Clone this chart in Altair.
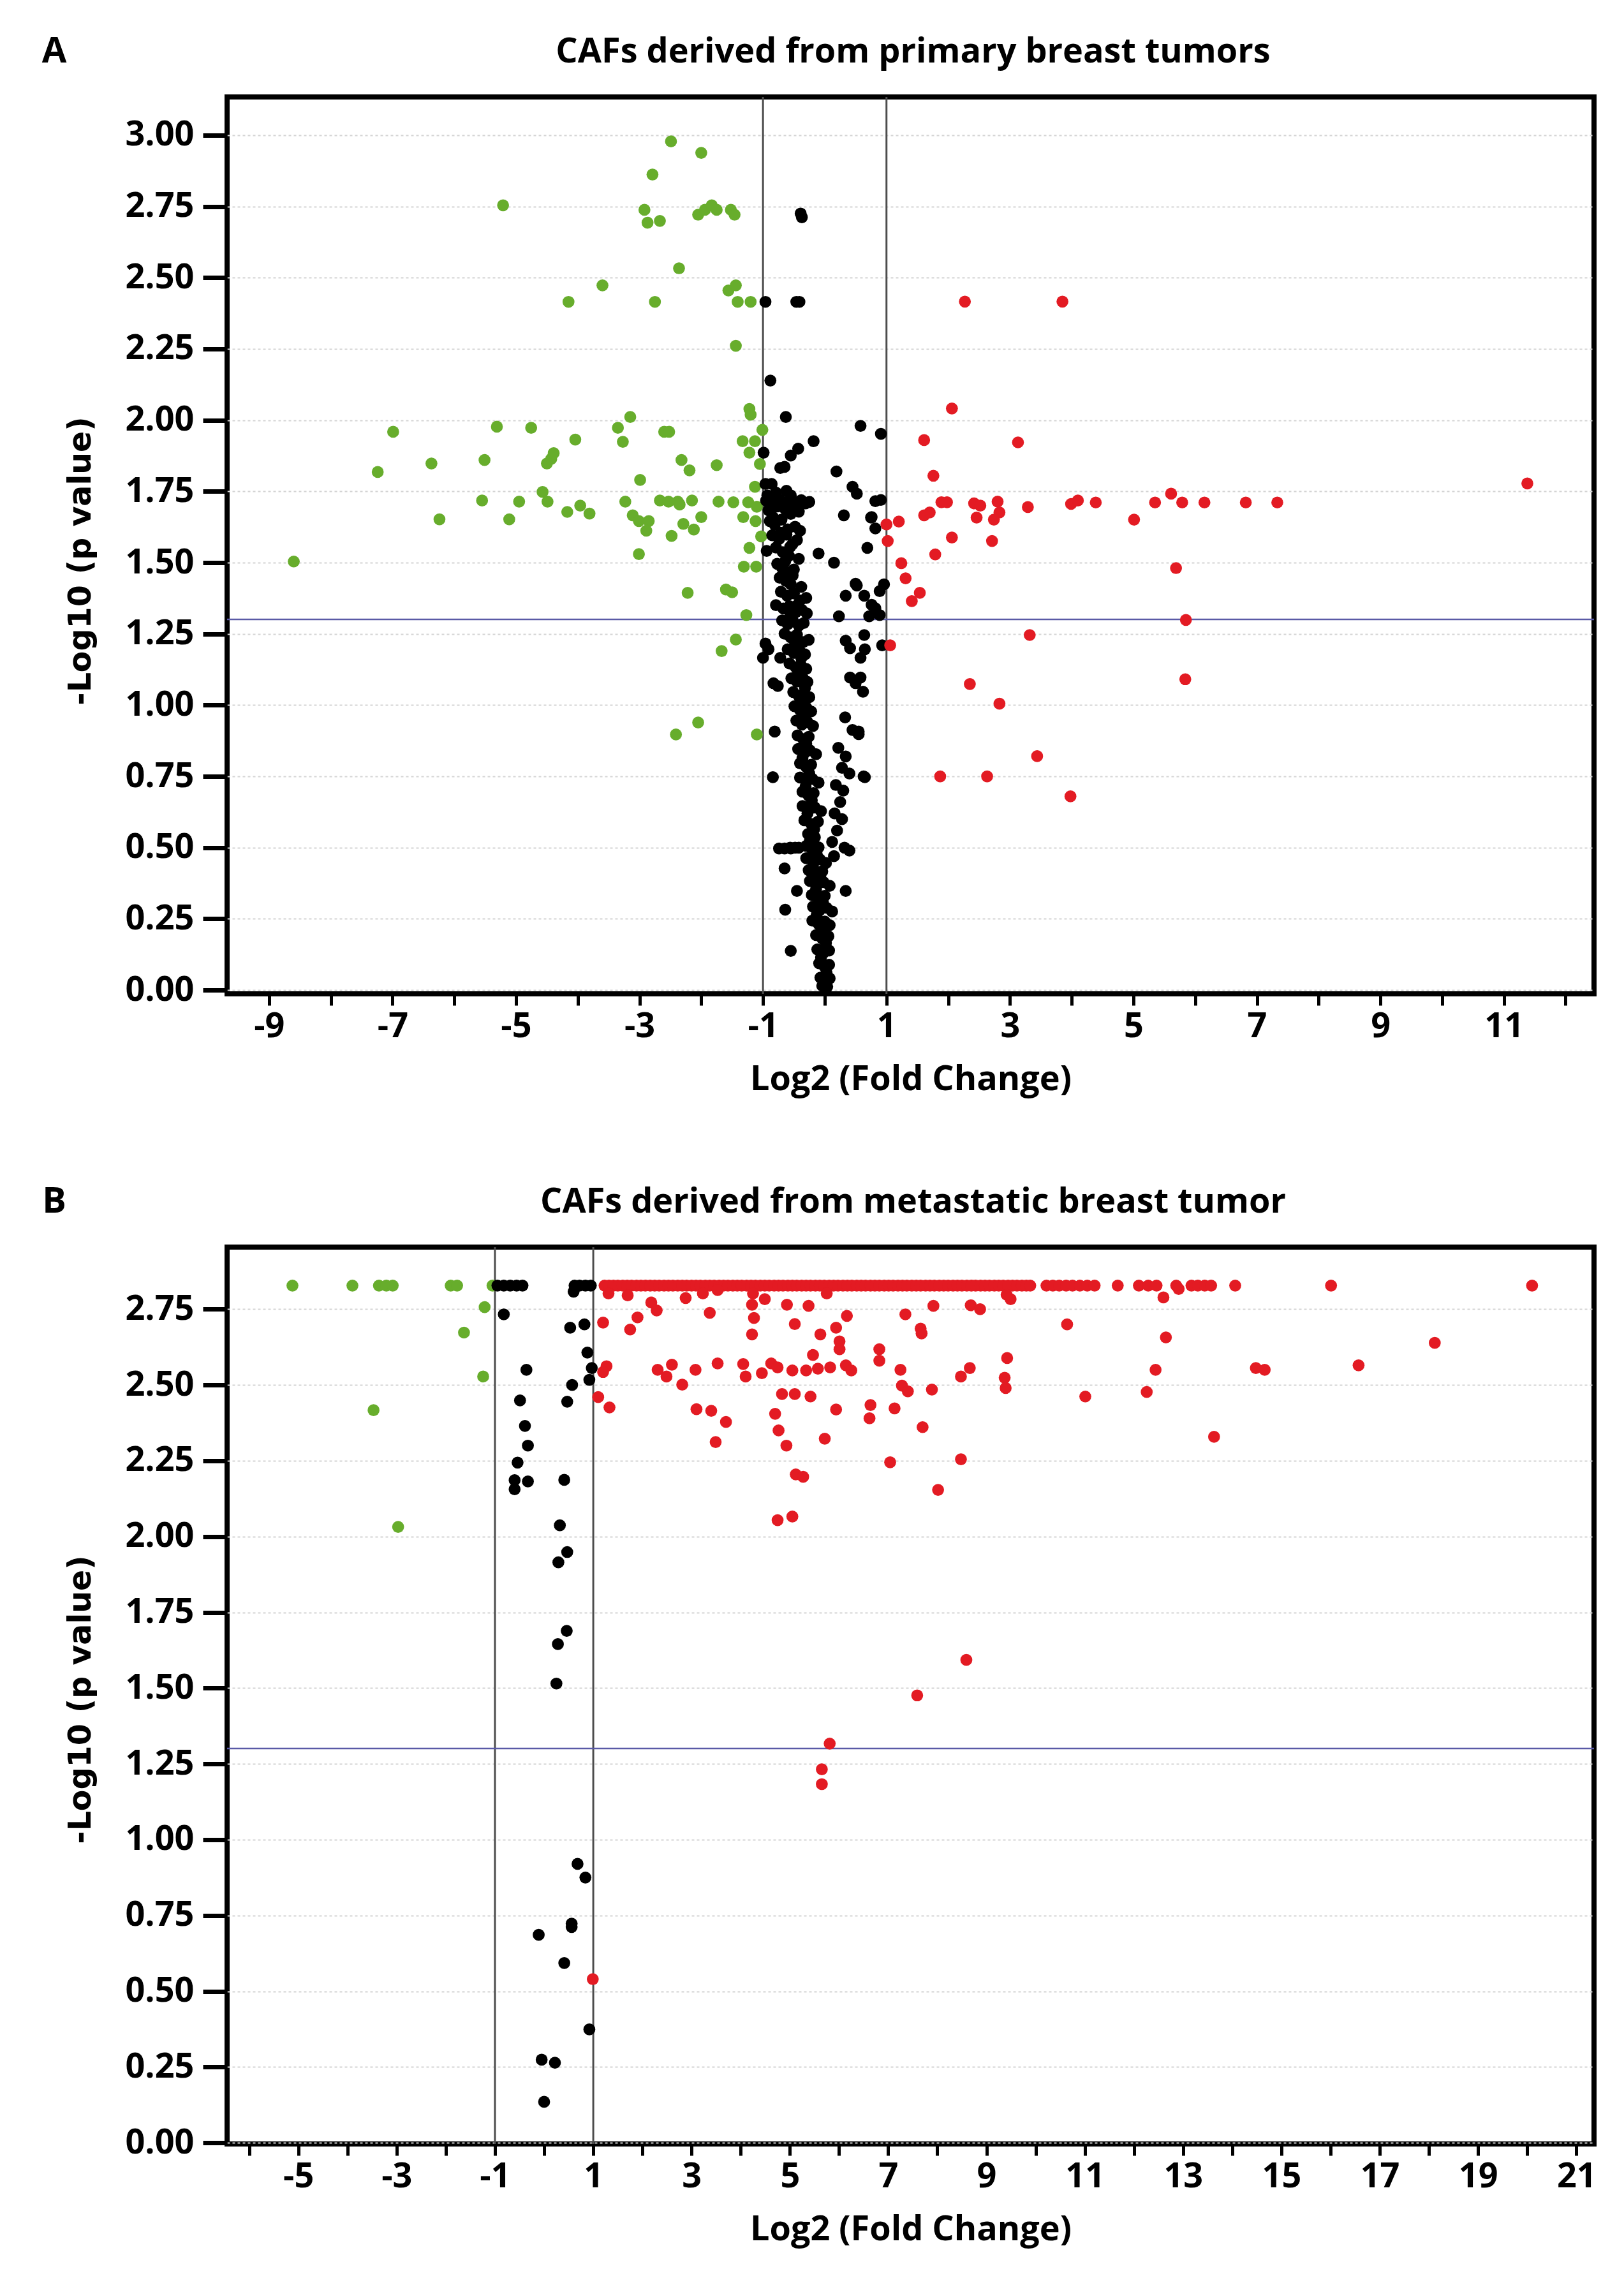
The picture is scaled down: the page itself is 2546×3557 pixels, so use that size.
import altair as alt
import pandas as pd

panel_letters = ["A", "B"]
panel_titles = ["CAFs derived from primary breast tumors",
                "CAFs derived from metastatic breast tumor"]
x_title = "Log2 (Fold Change)"
y_title = "-Log10 (p value)"
group_names = ["down", "ns", "up"]
group_colors = ["#67ad2c", "#000000", "#e31b23"]

a_x_ticks = [-9, -8, -7, -6, -5, -4, -3, -2, -1, 0, 1, 2, 3, 4, 5, 6, 7, 8, 9, 10, 11, 12]
a_y_ticks = [0.0, 0.25, 0.5, 0.75, 1.0, 1.25, 1.5, 1.75, 2.0, 2.25, 2.5, 2.75, 3.0]
b_x_ticks = [-6, -5, -4, -3, -2, -1, 0, 1, 2, 3, 4, 5, 6, 7, 8, 9, 10, 11, 12, 13, 14,
             15, 16, 17, 18, 19, 20, 21]
b_y_ticks = [0.0, 0.25, 0.5, 0.75, 1.0, 1.25, 1.5, 1.75, 2.0, 2.25, 2.5, 2.75]
fc_cutoffs = [-1, 1]
p_cutoff = [1.30103]

# ---------------- Panel A (primary) ----------------
a_green = [
    (-2.49, 2.978), (-2.00, 2.938), (-2.79, 2.862), (-5.21, 2.754), (-2.92, 2.738),
    (-2.87, 2.693), (-2.67, 2.699), (-2.05, 2.721), (-1.94, 2.738), (-1.83, 2.754),
    (-1.75, 2.738), (-1.52, 2.738), (-1.46, 2.721), (-2.36, 2.533), (-3.60, 2.473),
    (-4.15, 2.415), (-2.75, 2.415), (-1.56, 2.455), (-1.44, 2.473), (-1.41, 2.415),
    (-1.20, 2.415), (-1.44, 2.261), (-1.22, 2.039), (-1.20, 2.019), (-1.01, 1.966),
    (-1.33, 1.926), (-1.13, 1.926), (-1.22, 1.886), (-1.05, 1.846), (-1.13, 1.766),
    (-1.48, 1.712), (-1.24, 1.712), (-1.10, 1.696), (-1.32, 1.660), (-1.12, 1.646),
    (-1.03, 1.592), (-1.22, 1.552), (-1.31, 1.486), (-1.11, 1.486), (-1.60, 1.406),
    (-1.50, 1.396), (-1.27, 1.316), (-1.44, 1.230), (-1.67, 1.190), (-1.10, 0.897),
    (-6.99, 1.959), (-7.24, 1.818), (-6.37, 1.848), (-6.24, 1.652), (-8.60, 1.504),
    (-5.51, 1.860), (-5.31, 1.977), (-5.55, 1.718), (-5.11, 1.652), (-4.95, 1.714),
    (-4.755, 1.973), (-4.57, 1.748), (-4.49, 1.714), (-4.50, 1.848), (-4.43, 1.864),
    (-4.39, 1.884), (-4.17, 1.678), (-4.04, 1.932), (-3.96, 1.700), (-3.81, 1.672),
    (-3.35, 1.973), (-3.27, 1.924), (-3.15, 2.011), (-3.23, 1.714), (-2.99, 1.790),
    (-3.11, 1.666), (-3.01, 1.646), (-2.85, 1.646), (-2.89, 1.612), (-3.01, 1.530),
    (-2.60, 1.959), (-2.52, 1.959), (-2.67, 1.718), (-2.53, 1.714), (-2.38, 1.714),
    (-2.35, 1.704), (-2.32, 1.860), (-2.19, 1.824), (-2.29, 1.636), (-2.48, 1.594),
    (-2.15, 1.718), (-2.12, 1.616), (-2.00, 1.660), (-1.75, 1.842), (-1.72, 1.714),
    (-2.22, 1.394), (-2.41, 0.897), (-2.05, 0.939),
]

a_red = [
    (2.06, 2.041), (1.61, 1.930), (3.13, 1.922), (1.76, 1.805), (11.38, 1.778),
    (5.61, 1.742), (1.89, 1.712), (1.98, 1.712), (2.42, 1.708), (2.52, 1.700),
    (2.80, 1.714), (2.83, 1.676), (2.74, 1.651), (2.46, 1.658), (3.29, 1.695),
    (3.99, 1.706), (4.10, 1.718), (4.39, 1.711), (5.35, 1.711), (5.79, 1.711),
    (6.15, 1.711), (6.82, 1.711), (7.33, 1.711), (5.01, 1.651), (1.61, 1.666),
    (1.70, 1.676), (1.20, 1.644), (1.00, 1.634), (1.02, 1.576), (2.06, 1.588),
    (2.71, 1.576), (1.79, 1.529), (1.24, 1.498), (1.31, 1.445), (1.54, 1.394),
    (1.41, 1.365), (5.69, 1.481), (5.85, 1.299), (3.32, 1.246), (1.06, 1.210),
    (5.84, 1.091), (2.35, 1.074), (2.83, 1.005), (3.44, 0.821), (1.87, 0.750),
    (2.63, 0.750), (3.98, 0.680), (2.27, 2.416), (3.85, 2.416),
]

a_black = [
    (-0.39, 2.725), (-0.37, 2.712), (-0.96, 2.415), (-0.46, 2.415), (-0.41, 2.415),
    (-0.88, 2.139), (-0.63, 2.011), (-0.18, 1.926), (0.58, 1.980), (0.91, 1.952),
    (-0.43, 1.900), (-0.55, 1.876), (-0.65, 1.836), (-0.72, 1.832), (-0.99, 1.886),
    (0.19, 1.820), (0.45, 1.766), (0.52, 1.742), (-0.96, 1.776), (-0.86, 1.776),
    (-0.93, 1.736), (-0.79, 1.746), (-0.62, 1.752), (-0.55, 1.736), (0.31, 1.666),
    (0.76, 1.660), (0.82, 1.716), (0.91, 1.720), (0.82, 1.620), (0.75, 1.658),
    (0.69, 1.552), (-0.10, 1.532), (0.15, 1.500), (0.50, 1.426), (0.34, 1.384),
    (0.64, 1.384), (0.96, 1.424), (0.89, 1.400), (0.52, 1.420), (0.76, 1.352),
    (0.82, 1.340), (0.72, 1.312), (0.89, 1.316), (0.23, 1.312), (0.34, 1.226),
    (0.41, 1.200), (0.58, 1.166), (0.65, 1.196), (0.64, 1.246), (0.93, 1.210),
    (0.41, 1.097), (0.50, 1.077), (0.58, 1.097), (0.62, 1.047), (0.33, 0.957),
    (0.45, 0.913), (0.55, 0.907), (0.55, 0.898), (0.65, 0.747), (0.63, 0.750),
    (-0.84, 0.747), (-0.65, 0.427), (-0.64, 0.282), (-0.55, 0.138), (-0.45, 0.348),
    (0.34, 0.348), (-0.96, 1.216), (-1.00, 1.166), (-0.91, 1.196), (-0.83, 1.077),
    (-0.76, 1.067), (-0.81, 0.907), (-0.72, 1.166), (-0.74, 0.497), (-0.65, 0.497),
    (-0.55, 0.497), (0.22, 0.85), (0.34, 0.82), (0.28, 0.78), (0.40, 0.76),
    (0.18, 0.72), (0.30, 0.70), (0.25, 0.66), (0.16, 0.62), (0.28, 0.60),
    (0.20, 0.56), (0.12, 0.52), (0.32, 0.50), (0.15, 0.47), (0.40, 0.49),
    # dense central column
    (-0.95, 1.718), (-0.88, 1.706), (-0.80, 1.714), (-0.73, 1.722), (-0.66, 1.709),
    (-0.59, 1.716), (-0.52, 1.703), (-0.45, 1.712), (-0.38, 1.719), (-0.31, 1.708),
    (-0.25, 1.713), (-0.91, 1.684), (-0.77, 1.697), (-0.64, 1.688), (-0.55, 1.671),
    (-0.42, 1.679), (-0.89, 1.646), (-0.81, 1.633), (-0.70, 1.651), (-0.60, 1.617),
    (-0.48, 1.626), (-0.40, 1.612), (-0.85, 1.596), (-0.74, 1.583), (-0.62, 1.598),
    (-0.52, 1.566), (-0.45, 1.579), (-0.94, 1.541), (-0.79, 1.553), (-0.68, 1.537),
    (-0.58, 1.524), (-0.42, 1.513), (-0.77, 1.496), (-0.69, 1.482), (-0.60, 1.468),
    (-0.50, 1.476), (-0.73, 1.447), (-0.63, 1.436), (-0.55, 1.424), (-0.38, 1.415),
    (-0.71, 1.398), (-0.61, 1.384), (-0.50, 1.392), (-0.40, 1.367), (-0.30, 1.376),
    (-0.79, 1.351), (-0.67, 1.339), (-0.57, 1.347), (-0.47, 1.326), (-0.37, 1.334),
    (-0.29, 1.322), (-0.69, 1.297), (-0.60, 1.284), (-0.51, 1.293), (-0.42, 1.279),
    (-0.34, 1.288), (-0.65, 1.251), (-0.55, 1.238), (-0.45, 1.247), (-0.35, 1.221),
    (-0.26, 1.229), (-0.60, 1.196), (-0.50, 1.183), (-0.41, 1.192), (-0.32, 1.178),
    (-0.57, 1.146), (-0.47, 1.133), (-0.39, 1.141), (-0.30, 1.127), (-0.54, 1.094),
    (-0.45, 1.083), (-0.36, 1.097), (-0.28, 1.081), (-0.51, 1.046), (-0.42, 1.032),
    (-0.33, 1.041), (-0.25, 1.028), (-0.49, 0.996), (-0.40, 0.983), (-0.30, 0.992),
    (-0.22, 0.978), (-0.46, 0.946), (-0.37, 0.932), (-0.28, 0.941), (-0.19, 0.927),
    (-0.44, 0.894), (-0.35, 0.881), (-0.26, 0.889), (-0.43, 0.846), (-0.33, 0.832),
    (-0.24, 0.841), (-0.14, 0.828), (-0.40, 0.796), (-0.30, 0.783), (-0.22, 0.791),
    (-0.40, 0.746), (-0.30, 0.733), (-0.20, 0.741), (-0.10, 0.728), (-0.36, 0.696),
    (-0.26, 0.682), (-0.18, 0.691), (-0.36, 0.646), (-0.26, 0.632), (-0.16, 0.641),
    (-0.06, 0.628), (-0.33, 0.596), (-0.22, 0.583), (-0.11, 0.591), (-0.27, 0.548),
    (-0.16, 0.536), (-0.56, 0.500), (-0.48, 0.500), (-0.42, 0.500), (-0.30, 0.506),
    (-0.20, 0.492), (-0.10, 0.501), (-0.30, 0.463), (-0.19, 0.451), (-0.08, 0.459),
    (0.02, 0.446), (-0.26, 0.421), (-0.15, 0.409), (-0.04, 0.417), (-0.24, 0.383),
    (-0.13, 0.371), (-0.02, 0.379), (0.08, 0.366), (-0.21, 0.334), (-0.10, 0.322),
    (0.00, 0.331), (-0.19, 0.293), (-0.08, 0.281), (0.03, 0.289), (0.12, 0.276),
    (-0.20, 0.244), (-0.10, 0.232), (0.00, 0.241), (0.08, 0.228), (-0.14, 0.193),
    (-0.04, 0.181), (0.06, 0.189), (-0.12, 0.143), (-0.02, 0.131), (0.07, 0.139),
    (-0.09, 0.094), (0.00, 0.082), (0.07, 0.089), (-0.07, 0.044), (0.02, 0.032),
    (0.08, 0.041), (-0.04, 0.015), (0.04, 0.012),
    (-0.84, 1.660), (-0.71, 1.605), (-0.56, 1.555), (-0.64, 1.505), (-0.52, 1.455),
    (-0.45, 1.350), (-0.56, 1.310), (-0.48, 1.215), (-0.38, 1.165), (-0.43, 1.115),
    (-0.32, 1.060), (-0.36, 1.015), (-0.33, 0.960), (-0.30, 0.865), (-0.36, 0.815),
    (-0.25, 0.760), (-0.31, 0.715), (-0.21, 0.665), (-0.28, 0.620), (-0.17, 0.565),
    (-0.24, 0.525), (-0.13, 0.478), (-0.19, 0.435), (-0.07, 0.395), (-0.14, 0.355),
    (-0.03, 0.310), (-0.13, 0.265), (-0.05, 0.215), (0.02, 0.165), (-0.06, 0.115),
    (0.03, 0.060),
]

# ---------------- Panel B (metastatic) ----------------
b_green = [
    (-5.12, 2.828), (-3.90, 2.828), (-3.36, 2.828), (-3.21, 2.828), (-3.08, 2.828),
    (-1.90, 2.828), (-1.77, 2.828), (-1.05, 2.828), (-1.21, 2.757), (-1.63, 2.673),
    (-1.24, 2.528), (-3.47, 2.417), (-2.97, 2.032),
]

b_black = [
    (-0.95, 2.828), (-0.82, 2.828), (-0.69, 2.828), (-0.56, 2.828), (-0.44, 2.828),
    (0.62, 2.828), (0.72, 2.828), (0.84, 2.828), (0.95, 2.828), (0.60, 2.808),
    (-0.82, 2.733), (0.53, 2.689), (0.82, 2.700), (0.88, 2.607), (-0.36, 2.550),
    (0.97, 2.556), (0.92, 2.517), (0.57, 2.500), (-0.49, 2.449), (0.47, 2.445),
    (-0.39, 2.365), (-0.33, 2.300), (-0.54, 2.244), (-0.60, 2.186), (-0.60, 2.156),
    (-0.33, 2.182), (0.41, 2.187), (0.32, 2.037), (0.47, 1.949), (0.29, 1.915),
    (0.46, 1.689), (0.28, 1.645), (0.25, 1.515), (0.68, 0.920), (0.84, 0.875),
    (0.56, 0.723), (0.56, 0.712), (-0.11, 0.686), (0.41, 0.593), (0.92, 0.374),
    (-0.05, 0.274), (0.22, 0.264), (0.00, 0.135),
]

b_red_top_x = [
    1.23, 1.32, 1.41, 1.50, 1.60, 1.69, 1.78, 1.88, 1.97, 2.06, 2.16, 2.25, 2.34,
    2.44, 2.53, 2.62, 2.72, 2.81, 2.90, 3.00, 3.09, 3.18, 3.28, 3.37, 3.46, 3.56,
    3.65, 3.74, 3.84, 3.93, 4.02, 4.12, 4.21, 4.30, 4.40, 4.49, 4.58, 4.68, 4.77,
    4.86, 4.96, 5.05, 5.14, 5.24, 5.33, 5.42, 5.52, 5.61, 5.70, 5.80, 5.89, 5.98,
    6.08, 6.17, 6.26, 6.36, 6.45, 6.54, 6.64, 6.73, 6.82, 6.92, 7.01, 7.10, 7.20,
    7.29, 7.38, 7.48, 7.57, 7.66, 7.76, 7.85, 7.94, 8.04, 8.13, 8.22, 8.32, 8.41,
    8.50, 8.60, 8.69, 8.78, 8.88, 8.97, 9.06, 9.16, 9.25, 9.34, 9.44, 9.53, 9.62,
    9.72, 9.81, 9.89, 10.22, 10.35, 10.48, 10.62, 10.75, 10.90, 11.05, 11.20,
    11.67, 12.10, 12.29, 12.46, 12.86, 13.17, 13.30, 13.44, 13.57, 14.06, 16.01,
    20.10,
]
b_red_top_y = 2.828

b_red = [
    (1.31, 2.802), (1.70, 2.796), (2.18, 2.772), (2.29, 2.746), (2.88, 2.787),
    (3.23, 2.802), (3.53, 2.813), (4.23, 2.765), (4.49, 2.783), (4.25, 2.802),
    (5.75, 2.802), (4.94, 2.765), (5.38, 2.761), (3.37, 2.738), (1.20, 2.706),
    (1.90, 2.723), (1.75, 2.683), (4.27, 2.721), (5.10, 2.701), (6.16, 2.728),
    (5.94, 2.689), (4.23, 2.667), (5.62, 2.667), (6.01, 2.644), (6.01, 2.618),
    (6.82, 2.618), (6.82, 2.580), (5.47, 2.599), (1.27, 2.562), (1.20, 2.543),
    (2.31, 2.550), (2.49, 2.528), (2.60, 2.567), (3.08, 2.550), (3.53, 2.571),
    (4.05, 2.569), (4.10, 2.528), (4.43, 2.539), (4.62, 2.571), (4.75, 2.558),
    (5.05, 2.548), (5.33, 2.548), (5.57, 2.554), (5.82, 2.558), (6.14, 2.565),
    (6.25, 2.548), (2.81, 2.501), (1.10, 2.460), (1.33, 2.426), (4.84, 2.470),
    (5.10, 2.470), (5.42, 2.462), (3.10, 2.420), (3.40, 2.415), (3.70, 2.378),
    (4.70, 2.405), (4.77, 2.350), (4.93, 2.300), (3.49, 2.312), (5.71, 2.323),
    (5.94, 2.419), (6.62, 2.390), (6.64, 2.434), (5.12, 2.205), (5.27, 2.197),
    (4.75, 2.054), (5.05, 2.066),
    (9.49, 2.783), (9.41, 2.798), (7.92, 2.761), (8.68, 2.763), (8.87, 2.750),
    (7.35, 2.733), (12.60, 2.789), (12.91, 2.817), (7.66, 2.686), (7.68, 2.670),
    (10.64, 2.700), (12.65, 2.657), (18.12, 2.639), (9.42, 2.589), (7.25, 2.550),
    (8.66, 2.556), (8.48, 2.528), (9.37, 2.524), (9.39, 2.490), (12.44, 2.550),
    (14.48, 2.556), (14.66, 2.550), (16.57, 2.565), (7.28, 2.498), (7.40, 2.479),
    (7.89, 2.485), (11.01, 2.462), (12.26, 2.477), (7.13, 2.423), (7.70, 2.361),
    (13.63, 2.329), (8.48, 2.255), (7.04, 2.245), (8.015, 2.154),
    (0.99, 0.540), (5.81, 1.317), (5.65, 1.232), (5.65, 1.183), (7.59, 1.476),
    (8.59, 1.593),
]

PLOT_W = 2143
PLOT_H = 1406


def make_panel(letter, title, green, black, red, xdom, ydom, xticks, yticks, ytitle_y):
    rows = ([(x, y, "down") for x, y in green]
            + [(x, y, "ns") for x, y in black]
            + [(x, y, "up") for x, y in red])
    df = pd.DataFrame(rows, columns=["x", "y", "g"])

    x_axis = alt.Axis(
        values=xticks, grid=False, tickSize=18, tickWidth=5, tickColor="black",
        labelExpr="(datum.value % 2 != 0) ? '' + datum.value : ''",
        labelFont="Open Sans", labelFontSize=54, labelFontWeight="bold",
        labelColor="black", labelPadding=6, labelFlush=False, labelOverlap=False,
        title=x_title, titleFont="Open Sans", titleFontSize=54,
        titleFontWeight="bold", titleColor="black", titlePadding=29, domain=False,
    )
    y_axis = alt.Axis(
        values=yticks, format=".2f", grid=True, gridColor="#d4d4d4",
        gridDash=[4, 4], gridWidth=2, tickSize=38, tickWidth=7, tickColor="black",
        labelFont="Open Sans", labelFontSize=54, labelFontWeight="bold",
        labelColor="black", labelPadding=14, labelOverlap=False, labelFlush=False,
        title=y_title, titleFont="DejaVu Sans", titleFontSize=49,
        titleFontWeight="bold", titleColor="black", titlePadding=44, domain=False,
        titleY=ytitle_y,
    )
    xs = alt.Scale(domain=xdom, nice=False, zero=False)
    ys = alt.Scale(domain=ydom, nice=False, zero=False)

    vr = alt.Chart(pd.DataFrame({"x": fc_cutoffs})).mark_rule(
        color="#4d4d4d", strokeWidth=3
    ).encode(x=alt.X("x:Q", scale=xs, axis=x_axis))
    hr = alt.Chart(pd.DataFrame({"y": p_cutoff})).mark_rule(
        color="#5a5aa6", strokeWidth=2.5
    ).encode(y=alt.Y("y:Q", scale=ys, axis=y_axis))
    pts = alt.Chart(df).mark_circle(size=350, opacity=1).encode(
        x=alt.X("x:Q", scale=xs, axis=x_axis),
        y=alt.Y("y:Q", scale=ys, axis=y_axis),
        color=alt.Color("g:N", scale=alt.Scale(domain=group_names, range=group_colors),
                        legend=None),
    )
    lab = alt.Chart(pd.DataFrame({"t": [letter]})).mark_text(
        font="Open Sans", fontSize=56, fontWeight="bold", color="black",
        align="center", baseline="alphabetic"
    ).encode(text="t:N", x=alt.value(-271), y=alt.value(-54))
    ttl = alt.Chart(pd.DataFrame({"t": [title]})).mark_text(
        font="Open Sans", fontSize=54, fontWeight="bold", color="black",
        align="center", baseline="alphabetic"
    ).encode(text="t:N", x=alt.value(PLOT_W / 2 + 4), y=alt.value(-54))

    return alt.layer(vr, hr, pts, lab, ttl).properties(width=PLOT_W, height=PLOT_H)


b_red_all = [(x, b_red_top_y) for x in b_red_top_x] + b_red

panel_a = make_panel(panel_letters[0], panel_titles[0], a_green, a_black, a_red,
                     [-9.68, 12.46], [-0.013, 3.134], a_x_ticks, a_y_ticks, PLOT_H / 2 + 24)
panel_b = make_panel(panel_letters[1], panel_titles[1], b_green, b_black, b_red_all,
                     [-6.45, 21.36], [-0.004, 2.955], b_x_ticks, b_y_ticks, PLOT_H / 2 + 6)

chart = alt.vconcat(panel_a, panel_b, spacing=129).properties(
    padding={"left": 53, "top": 41, "right": 5, "bottom": 5},
    background="white",
).configure_view(stroke="black", strokeWidth=8)

chart.save("out.html", embed_options={"renderer": "svg", "actions": False})
